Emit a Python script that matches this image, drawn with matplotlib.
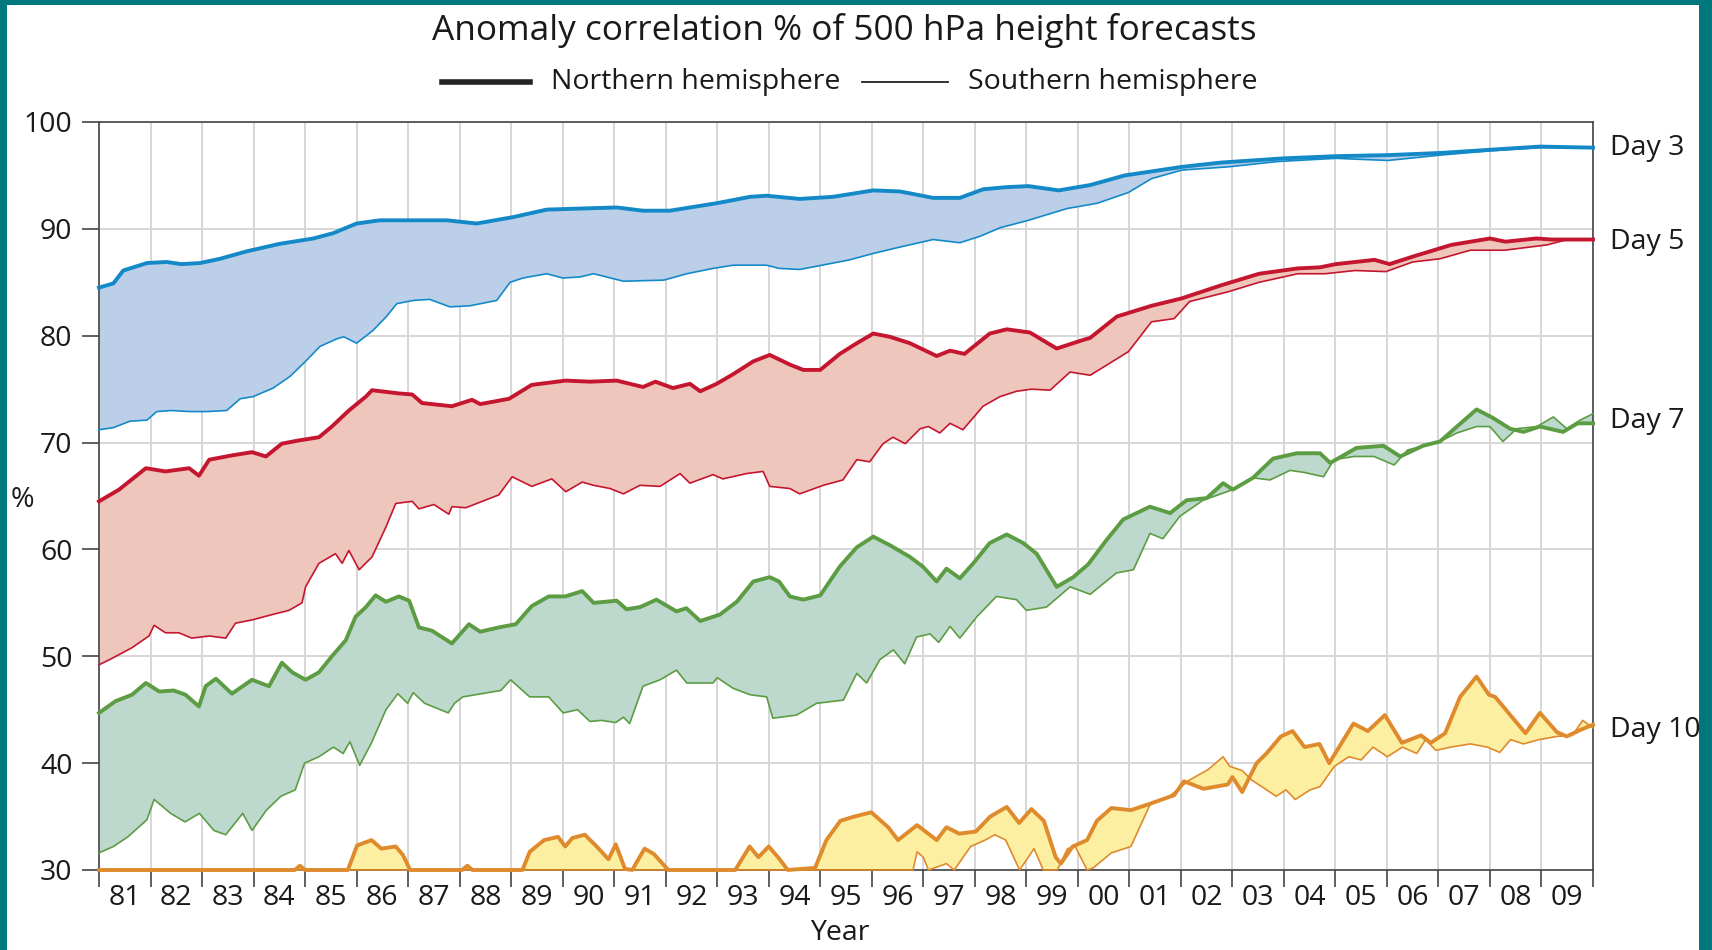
import numpy as np
import matplotlib
matplotlib.use("Agg")
import matplotlib.pyplot as plt
from matplotlib.lines import Line2D
from matplotlib.patches import Rectangle
from matplotlib.ticker import FixedLocator, NullFormatter, FixedFormatter

plt.rcParams['font.family'] = ['Open Sans', 'DejaVu Sans']

# ---------------------------------------------------------------- data
title = "Anomaly correlation % of 500 hPa height forecasts"
year_labels = ['81', '82', '83', '84', '85', '86', '87', '88', '89', '90',
               '91', '92', '93', '94', '95', '96', '97', '98', '99', '00',
               '01', '02', '03', '04', '05', '06', '07', '08', '09']
day_names = ['Day 3', 'Day 5', 'Day 7', 'Day 10']

# Day 3
d3_nh_t = np.array([1981.0, 1981.28, 1981.47, 1981.93, 1982.31, 1982.6, 1982.96, 1983.35, 1983.87,
                    1984.51, 1985.16, 1985.55, 1986.0, 1986.45, 1986.9, 1987.75, 1988.33, 1989.04,
                    1989.69, 1990.34, 1991.05, 1991.56, 1992.08, 1992.99, 1993.64, 1993.96, 1994.6,
                    1995.25, 1996.03, 1996.55, 1997.19, 1997.71, 1998.16, 1998.6, 1999.04, 1999.63,
                    2000.24, 2000.91, 2002.02, 2002.77, 2004.0, 2005.01, 2006.02, 2007.03, 2008.0,
                    2008.97, 2010.0])
d3_nh = np.array([84.5, 84.9, 86.1, 86.8, 86.9, 86.7, 86.8, 87.2, 87.9,
                  88.6, 89.1, 89.6, 90.5, 90.8, 90.8, 90.8, 90.5, 91.1,
                  91.8, 91.9, 92.0, 91.7, 91.7, 92.4, 93.0, 93.1, 92.8,
                  93.0, 93.6, 93.5, 92.9, 92.9, 93.7, 93.9, 94.0, 93.6,
                  94.1, 95.0, 95.8, 96.2, 96.6, 96.8, 96.9, 97.1, 97.4,
                  97.7, 97.6])
d3_sh_t = np.array([1981.0, 1981.28, 1981.6, 1981.93, 1982.12, 1982.4, 1982.77, 1983.09, 1983.48,
                    1983.74, 1983.99, 1984.38, 1984.71, 1985.03, 1985.29, 1985.61, 1985.75, 1986.0,
                    1986.32, 1986.58, 1986.78, 1987.1, 1987.42, 1987.81, 1988.2, 1988.72, 1988.98,
                    1989.23, 1989.69, 1990.0, 1990.34, 1990.6, 1991.18, 1991.96, 1992.41, 1992.92,
                    1993.31, 1993.96, 1994.2, 1994.6, 1995.25, 1995.57, 1996.03, 1996.55, 1997.19,
                    1997.71, 1998.1, 1998.49, 1999.04, 1999.79, 2000.38, 2000.98, 2001.43, 2002.02,
                    2002.91, 2003.88, 2005.01, 2006.02, 2007.03, 2008.0, 2008.97, 2010.0])
d3_sh = np.array([71.2, 71.4, 72.0, 72.1, 72.9, 73.0, 72.9, 72.9, 73.0,
                  74.1, 74.3, 75.1, 76.2, 77.7, 79.0, 79.7, 79.9, 79.3,
                  80.5, 81.8, 83.0, 83.3, 83.4, 82.7, 82.8, 83.3, 85.0,
                  85.4, 85.8, 85.4, 85.5, 85.8, 85.1, 85.2, 85.8, 86.3,
                  86.6, 86.6, 86.3, 86.2, 86.8, 87.1, 87.7, 88.3, 89.0,
                  88.7, 89.3, 90.1, 90.8, 91.9, 92.4, 93.4, 94.7, 95.5,
                  95.8, 96.3, 96.6, 96.4, 96.9, 97.3, 97.6, 97.6])

# Day 5
d5_nh_t = np.array([1981.0, 1981.39, 1981.91, 1982.29, 1982.75, 1982.94, 1983.14, 1983.58, 1983.97,
                    1984.24, 1984.55, 1984.88, 1985.27, 1985.52, 1985.85, 1986.18, 1986.3, 1986.82,
                    1987.08, 1987.27, 1987.85, 1988.24, 1988.4, 1988.96, 1989.4, 1990.06, 1990.53,
                    1991.05, 1991.56, 1991.8, 1992.14, 1992.47, 1992.67, 1992.99, 1993.31, 1993.7,
                    1994.02, 1994.41, 1994.67, 1995.0, 1995.38, 1995.71, 1996.03, 1996.35, 1996.74,
                    1997.26, 1997.52, 1997.8, 1998.29, 1998.62, 1999.07, 1999.59, 2000.1, 2000.24,
                    2000.76, 2001.43, 2002.02, 2002.77, 2003.52, 2004.27, 2004.7, 2005.01, 2005.76,
                    2006.05, 2006.5, 2007.25, 2008.0, 2008.3, 2008.9, 2009.2, 2010.0])
d5_nh = np.array([64.5, 65.6, 67.6, 67.3, 67.6, 66.9, 68.4, 68.8, 69.1,
                  68.7, 69.9, 70.2, 70.5, 71.5, 73.0, 74.3, 74.9, 74.6,
                  74.5, 73.7, 73.4, 74.0, 73.6, 74.1, 75.4, 75.8, 75.7,
                  75.8, 75.2, 75.7, 75.1, 75.5, 74.8, 75.5, 76.4, 77.6,
                  78.2, 77.3, 76.8, 76.8, 78.3, 79.3, 80.2, 79.9, 79.3,
                  78.1, 78.6, 78.3, 80.2, 80.6, 80.3, 78.8, 79.6, 79.8,
                  81.8, 82.8, 83.5, 84.7, 85.8, 86.3, 86.4, 86.7, 87.1,
                  86.7, 87.4, 88.5, 89.1, 88.8, 89.1, 89.0, 89.0])
d5_sh_t = np.array([1981.0, 1981.25, 1981.64, 1981.97, 1982.07, 1982.29, 1982.55, 1982.8, 1983.14,
                    1983.46, 1983.65, 1983.97, 1984.36, 1984.69, 1984.94, 1985.01, 1985.27, 1985.59,
                    1985.72, 1985.85, 1986.05, 1986.3, 1986.57, 1986.76, 1987.08, 1987.21, 1987.5,
                    1987.79, 1987.85, 1988.12, 1988.76, 1989.02, 1989.4, 1989.79, 1990.06, 1990.38,
                    1990.6, 1990.92, 1991.18, 1991.5, 1991.89, 1992.28, 1992.47, 1992.92, 1993.11,
                    1993.57, 1993.89, 1994.02, 1994.41, 1994.6, 1995.06, 1995.44, 1995.71, 1995.96,
                    1996.22, 1996.41, 1996.65, 1996.94, 1997.1, 1997.32, 1997.52, 1997.77, 1998.16,
                    1998.49, 1998.81, 1999.1, 1999.46, 1999.85, 2000.24, 2000.98, 2001.43, 2001.87,
                    2002.17, 2002.91, 2003.52, 2004.27, 2004.8, 2005.38, 2005.98, 2006.5, 2007.03,
                    2007.62, 2008.28, 2009.11, 2009.5, 2010.0])
d5_sh = np.array([49.2, 49.8, 50.8, 51.9, 52.9, 52.2, 52.2, 51.7, 51.9,
                  51.7, 53.1, 53.4, 53.9, 54.3, 55.0, 56.5, 58.7, 59.6,
                  58.7, 59.9, 58.1, 59.3, 62.1, 64.3, 64.5, 63.8, 64.2,
                  63.3, 64.0, 63.9, 65.1, 66.8, 65.9, 66.6, 65.4, 66.3,
                  66.0, 65.7, 65.2, 66.0, 65.9, 67.1, 66.2, 67.0, 66.6,
                  67.1, 67.3, 65.9, 65.7, 65.2, 66.0, 66.5, 68.4, 68.2,
                  69.9, 70.5, 69.9, 71.3, 71.5, 70.9, 71.8, 71.2, 73.4,
                  74.3, 74.8, 75.0, 74.9, 76.6, 76.3, 78.5, 81.3, 81.6,
                  83.2, 84.1, 85.0, 85.8, 85.8, 86.1, 86.0, 86.9, 87.2,
                  88.0, 88.0, 88.5, 89.0, 89.0])

# Day 7
d7_nh_t = np.array([1981.0, 1981.32, 1981.64, 1981.91, 1982.17, 1982.45, 1982.68, 1982.94, 1983.07,
                    1983.27, 1983.58, 1983.97, 1984.3, 1984.55, 1984.75, 1985.01, 1985.27, 1985.52,
                    1985.79, 1985.98, 1986.18, 1986.37, 1986.57, 1986.82, 1987.02, 1987.21, 1987.46,
                    1987.85, 1988.18, 1988.4, 1988.76, 1989.09, 1989.4, 1989.73, 1990.05, 1990.38,
                    1990.6, 1991.05, 1991.24, 1991.5, 1991.82, 1992.21, 1992.4, 1992.67, 1993.05,
                    1993.38, 1993.7, 1994.02, 1994.2, 1994.41, 1994.67, 1995.0, 1995.38, 1995.71,
                    1996.03, 1996.35, 1996.74, 1996.99, 1997.26, 1997.45, 1997.71, 1997.97, 1998.29,
                    1998.62, 1998.94, 1999.2, 1999.59, 1999.91, 2000.2, 2000.56, 2000.88, 2001.4,
                    2001.79, 2002.11, 2002.5, 2002.82, 2003.01, 2003.4, 2003.79, 2004.25, 2004.7,
                    2004.9, 2005.41, 2005.93, 2006.26, 2006.7, 2007.03, 2007.36, 2007.74, 2008.06,
                    2008.39, 2008.65, 2008.97, 2009.42, 2009.7, 2010.0])
d7_nh = np.array([44.7, 45.8, 46.4, 47.5, 46.7, 46.8, 46.4, 45.3, 47.2,
                  47.9, 46.5, 47.8, 47.2, 49.4, 48.5, 47.8, 48.5, 50.0,
                  51.5, 53.7, 54.6, 55.7, 55.1, 55.6, 55.2, 52.7, 52.4,
                  51.2, 53.0, 52.3, 52.7, 53.0, 54.7, 55.6, 55.6, 56.1,
                  55.0, 55.2, 54.4, 54.6, 55.3, 54.2, 54.5, 53.3, 53.9,
                  55.1, 57.0, 57.4, 57.0, 55.6, 55.3, 55.7, 58.4, 60.2,
                  61.2, 60.4, 59.3, 58.4, 57.0, 58.2, 57.3, 58.7, 60.6,
                  61.4, 60.6, 59.6, 56.5, 57.4, 58.6, 60.9, 62.8, 64.0,
                  63.4, 64.6, 64.8, 66.2, 65.6, 66.7, 68.5, 69.0, 69.0,
                  68.1, 69.5, 69.7, 68.7, 69.7, 70.1, 71.5, 73.1, 72.3,
                  71.3, 71.0, 71.5, 71.0, 71.8, 71.8])
d7_sh_t = np.array([1981.0, 1981.28, 1981.56, 1981.93, 1982.07, 1982.39, 1982.67, 1982.95, 1983.23,
                    1983.46, 1983.79, 1983.97, 1984.25, 1984.53, 1984.81, 1984.99, 1985.27, 1985.55,
                    1985.74, 1985.87, 1986.06, 1986.29, 1986.57, 1986.8, 1986.99, 1987.1, 1987.32,
                    1987.78, 1987.9, 1988.06, 1988.43, 1988.8, 1988.99, 1989.36, 1989.73, 1990.01,
                    1990.29, 1990.53, 1990.75, 1991.03, 1991.18, 1991.3, 1991.56, 1991.89, 1992.21,
                    1992.41, 1992.92, 1993.0, 1993.31, 1993.64, 1993.96, 1994.08, 1994.54, 1994.93,
                    1995.45, 1995.71, 1995.9, 1996.16, 1996.42, 1996.64, 1996.87, 1997.13, 1997.3,
                    1997.52, 1997.71, 1998.04, 1998.42, 1998.81, 1999.0, 1999.39, 1999.85, 2000.24,
                    2000.75, 2001.08, 2001.4, 2001.65, 2001.98, 2002.43, 2003.01, 2003.4, 2003.73,
                    2004.12, 2004.4, 2004.77, 2004.97, 2005.36, 2005.75, 2006.14, 2006.4, 2007.03,
                    2007.36, 2007.74, 2008.0, 2008.25, 2008.52, 2008.91, 2009.23, 2009.49, 2009.75,
                    2010.0])
d7_sh = np.array([31.6, 32.2, 33.1, 34.7, 36.6, 35.3, 34.5, 35.3, 33.7,
                  33.3, 35.3, 33.7, 35.6, 36.9, 37.5, 40.0, 40.6, 41.5,
                  40.9, 42.0, 39.8, 41.9, 45.0, 46.5, 45.6, 46.6, 45.6,
                  44.7, 45.6, 46.2, 46.5, 46.8, 47.8, 46.2, 46.2, 44.7,
                  45.0, 43.9, 44.0, 43.8, 44.3, 43.7, 47.2, 47.8, 48.7,
                  47.5, 47.5, 48.0, 47.0, 46.4, 46.2, 44.2, 44.5, 45.6,
                  45.9, 48.4, 47.5, 49.7, 50.6, 49.3, 51.8, 52.1, 51.3,
                  52.8, 51.7, 53.7, 55.6, 55.3, 54.3, 54.6, 56.5, 55.8,
                  57.8, 58.1, 61.5, 61.0, 63.1, 64.6, 65.6, 66.7, 66.5,
                  67.4, 67.2, 66.8, 68.4, 68.7, 68.7, 67.9, 69.3, 70.1,
                  70.9, 71.5, 71.5, 70.1, 71.3, 71.5, 72.4, 71.3, 72.1,
                  72.7])

# Day 10 (values at or below 30 sit on the axis floor)
d10_nh_t = np.array([1981.0, 1984.8, 1984.9, 1985.0, 1985.83, 1986.01, 1986.29, 1986.48, 1986.76,
                     1986.9, 1987.04, 1988.05, 1988.15, 1988.25, 1989.22, 1989.36, 1989.64, 1989.91,
                     1990.05, 1990.19, 1990.43, 1990.66, 1990.89, 1991.03, 1991.21, 1991.35, 1991.59,
                     1991.77, 1992.05, 1993.35, 1993.63, 1993.8, 1994.0, 1994.18, 1994.37, 1994.9,
                     1995.12, 1995.39, 1995.66, 1995.99, 1996.32, 1996.51, 1996.88, 1997.26, 1997.45,
                     1997.7, 1998.02, 1998.3, 1998.62, 1998.86, 1999.1, 1999.34, 1999.57, 1999.67,
                     1999.9, 2000.18, 2000.37, 2000.65, 2001.03, 2001.4, 2001.87, 2002.06, 2002.44,
                     2002.91, 2003.0, 2003.19, 2003.47, 2003.66, 2003.94, 2004.17, 2004.4, 2004.69,
                     2004.88, 2005.35, 2005.63, 2005.96, 2006.29, 2006.66, 2006.85, 2007.13, 2007.42,
                     2007.74, 2007.98, 2008.1, 2008.36, 2008.69, 2008.97, 2009.3, 2009.49, 2009.75,
                     2010.0])
d10_nh = np.array([30.0, 30.0, 30.4, 30.0, 30.0, 32.3, 32.8, 32.0, 32.2,
                   31.4, 30.0, 30.0, 30.4, 30.0, 30.0, 31.7, 32.8, 33.1,
                   32.2, 33.0, 33.3, 32.2, 31.0, 32.4, 30.1, 30.0, 32.0,
                   31.5, 30.0, 30.0, 32.2, 31.2, 32.2, 31.2, 30.0, 30.2,
                   32.8, 34.6, 35.0, 35.4, 34.0, 32.8, 34.2, 32.8, 34.0,
                   33.4, 33.6, 35.0, 35.9, 34.4, 35.7, 34.6, 31.2, 30.6,
                   32.2, 32.8, 34.6, 35.8, 35.6, 36.2, 37.0, 38.3, 37.6,
                   38.0, 38.7, 37.3, 40.0, 40.9, 42.5, 43.0, 41.5, 41.8,
                   40.0, 43.7, 43.0, 44.5, 41.9, 42.6, 41.9, 42.8, 46.2,
                   48.1, 46.4, 46.2, 44.7, 42.8, 44.7, 42.9, 42.5, 43.1,
                   43.6])
d10_sh_t = np.array([1981.0, 1996.8, 1996.88, 1997.0, 1997.1, 1997.45, 1997.6, 1997.92, 1998.2,
                     1998.39, 1998.6, 1998.87, 1999.15, 1999.33, 1999.6, 1999.8, 1999.95, 2000.18,
                     2000.3, 2000.65, 2001.03, 2001.4, 2001.78, 2002.16, 2002.53, 2002.82, 2002.95,
                     2003.19, 2003.38, 2003.57, 2003.85, 2004.04, 2004.22, 2004.51, 2004.7, 2004.98,
                     2005.26, 2005.5, 2005.73, 2006.01, 2006.3, 2006.58, 2006.75, 2006.95, 2007.24,
                     2007.62, 2007.95, 2008.19, 2008.4, 2008.65, 2008.95, 2009.3, 2009.6, 2009.8,
                     2010.0])
d10_sh = np.array([30.0, 30.0, 31.7, 31.2, 30.0, 30.6, 30.0, 32.2, 32.8,
                   33.3, 32.8, 30.0, 32.0, 30.0, 30.0, 32.0, 32.2, 30.0,
                   30.2, 31.6, 32.2, 36.1, 36.9, 38.4, 39.4, 40.6, 39.7,
                   39.3, 38.4, 37.8, 36.9, 37.5, 36.6, 37.5, 37.8, 39.7,
                   40.6, 40.3, 41.5, 40.6, 41.5, 40.9, 42.2, 41.2, 41.5,
                   41.8, 41.5, 41.0, 42.2, 41.8, 42.2, 42.5, 42.6, 44.0,
                   43.3])

# ---------------------------------------------------------------- styling
W, H = 1712, 950
teal = '#00787e'
line_colors = ['#1389c8', '#c4162f', '#5c9c43', '#df8a2c']
fill_colors = ['#bbcfe8', '#efc6bb', '#bdd9cd', '#fcefa2']
label_values = [97.6, 88.8, 72.0, 43.1]

series = [
    (d3_nh_t, d3_nh, d3_sh_t, d3_sh),
    (d5_nh_t, d5_nh, d5_sh_t, d5_sh),
    (d7_nh_t, d7_nh, d7_sh_t, d7_sh),
    (d10_nh_t, d10_nh, d10_sh_t, d10_sh),
]

fig = plt.figure(figsize=(W / 100, H / 100), dpi=100, facecolor=teal)
# white card on the teal frame
fig.add_artist(Rectangle((7 / W, 0), (1699 - 7) / W, (950 - 5) / H,
                         transform=fig.transFigure, facecolor='white',
                         edgecolor='none', zorder=0))

ax = fig.add_axes([99 / W, 1 - 870 / H, (1593 - 99) / W, (870 - 122) / H])
ax.set_facecolor('white')
ax.set_xlim(1981, 2010)
ax.set_ylim(30, 100)
ax.set_axisbelow(True)

txt = '#1a1a1a'
spine_c = '#444444'
for s in ax.spines.values():
    s.set_color(spine_c)
    s.set_linewidth(1.2)

# year boundaries carry ticks and grid; labels sit mid-year
ax.xaxis.set_major_locator(FixedLocator(np.arange(1981, 2011)))
ax.xaxis.set_major_formatter(NullFormatter())
ax.xaxis.set_minor_locator(FixedLocator(np.arange(1981, 2010) + 0.5))
ax.xaxis.set_minor_formatter(FixedFormatter(year_labels))
ax.tick_params(axis='x', which='major', direction='out', length=12, width=1.2,
               color=spine_c)
ax.tick_params(axis='x', which='minor', length=0, pad=10, labelsize=20.5,
               labelcolor=txt)
ax.set_yticks(np.arange(30, 101, 10))
ax.tick_params(axis='y', direction='out', length=12, width=1.2, color=spine_c,
               pad=7, labelsize=20.5, labelcolor=txt)
ax.grid(True, which='major', color='#d6d6d6', lw=1.4)

for (tn, nh, ts, sh), lc, fc in zip(series[::-1], line_colors[::-1], fill_colors[::-1]):
    ax.fill(np.concatenate([tn, ts[::-1]]), np.concatenate([nh, sh[::-1]]),
            color=fc, lw=0, zorder=2)
    ax.plot(ts, sh, color=lc, lw=1.2, zorder=3, clip_on=False,
            solid_joinstyle='round')
    ax.plot(tn, nh, color=lc, lw=2.8, zorder=4, clip_on=False,
            solid_joinstyle='round')

for name, v in zip(day_names, label_values):
    ax.annotate(name, xy=(2010, v), xytext=(12, 0), textcoords='offset points',
                ha='left', va='center', fontsize=20.5, color=txt,
                annotation_clip=False)

# title, legend and axis captions
legend_y = 1 - 82 / H
fig.text(844 / W, 1 - 30 / H, title, ha='center', va='center', fontsize=25.3,
         color=txt)
fig.add_artist(Line2D([442 / W, 530 / W], [legend_y, legend_y],
                      transform=fig.transFigure, color='#222222', lw=4))
fig.text(551 / W, legend_y, 'Northern hemisphere', ha='left', va='center',
         fontsize=20.5, color=txt)
fig.add_artist(Line2D([862 / W, 948 / W], [legend_y, legend_y],
                      transform=fig.transFigure, color='#222222', lw=1.3))
fig.text(968 / W, legend_y, 'Southern hemisphere', ha='left', va='center',
         fontsize=20.5, color=txt)
fig.text(22 / W, 1 - 500 / H, '%', ha='center', va='center', fontsize=20.5,
         color=txt)
fig.text(840 / W, 1 - 933 / H, 'Year', ha='center', va='center', fontsize=20.5,
         color=txt)

fig.savefig('out.png', dpi=100, facecolor=teal)
